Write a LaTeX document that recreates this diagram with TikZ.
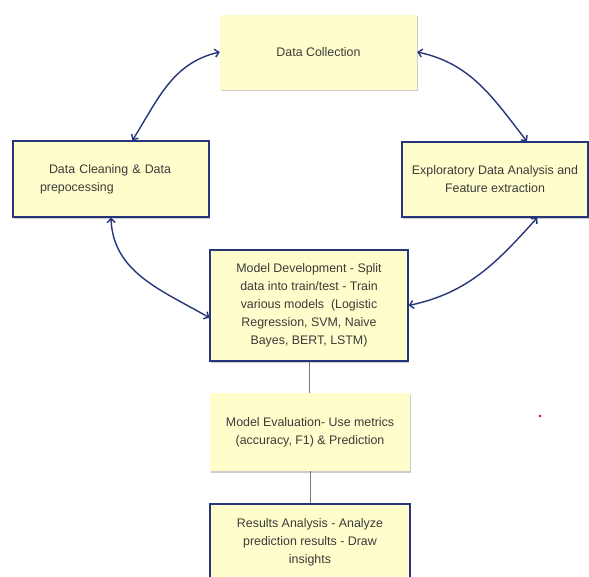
\documentclass[tikz,border=0pt]{standalone}
\usepackage{fontspec}
\setmainfont{Liberation Sans}
\usepackage{xcolor}
\usetikzlibrary{arrows.meta,shadows}
\definecolor{pipejaune}{HTML}{FFFDCB}
\definecolor{pipenavy}{HTML}{27357A}
\definecolor{pipetexte}{HTML}{3A3A3A}
\definecolor{pipegris}{HTML}{7A7A7A}

\begin{document}
\begin{tikzpicture}[x=1pt,y=1pt,font=\fontsize{12.4}{18}\selectfont,
  stage/.style={fill=pipejaune,text=pipetexte,align=center,inner sep=2pt,
    drop shadow={shadow xshift=1.3pt,shadow yshift=-1.8pt,fill=black!40}},
  framed/.style={stage,draw=pipenavy,line width=1.2pt},
  flow/.style={pipenavy,line width=1.4pt,{Straight Barb[length=4pt,width=8pt]}-{Straight Barb[length=4pt,width=8pt]}},
  link/.style={pipegris,line width=0.9pt}]
  \useasboundingbox (0,0) rectangle (589,-576);
  % stages
  \node[stage,minimum width=197,minimum height=75] (collect) at (318.5,-52) {Data Collection};
  \node[framed,minimum width=196,minimum height=76,text width=142,align=left] (clean) at (111,-179) {\hspace{9pt}Data Cleaning \& Data\\prepocessing};
  \node[framed,minimum width=186,minimum height=75] (eda) at (495,-179.5) {Exploratory Data Analysis and\\Feature extraction};
  \node[framed,minimum width=198,minimum height=111] (dev) at (309,-305.5) {Model Development - Split\\data into train/test - Train\\various models\ \ (Logistic\\Regression, SVM, Naive\\Bayes, BERT, LSTM)};
  \node[stage,minimum width=200,minimum height=78] (eval) at (310,-432) {Model Evaluation- Use metrics\\(accuracy, F1) \& Prediction};
  \node[framed,minimum width=200,minimum height=76] (results) at (310,-542) {Results Analysis - Analyze\\prediction results - Draw\\insights};
  % loop arrows
  \draw[flow] (clean.61) to[out=58,in=193] (collect.west);
  \draw[flow] (collect.east) to[out=-12,in=128] (eda.50);
  \draw[flow] (clean.south) to[out=-88,in=150] (dev.187);
  \draw[flow] (eda.-42) to[out=-132,in=12] (dev.east);
  % straight links
  \draw[link] (dev.south) -- (dev.south |- eval.north);
  \draw[link] (eval.south) -- (eval.south |- results.north);
  \fill[red!80!black] (540,-416) circle (1.3);
\end{tikzpicture}
\end{document}
